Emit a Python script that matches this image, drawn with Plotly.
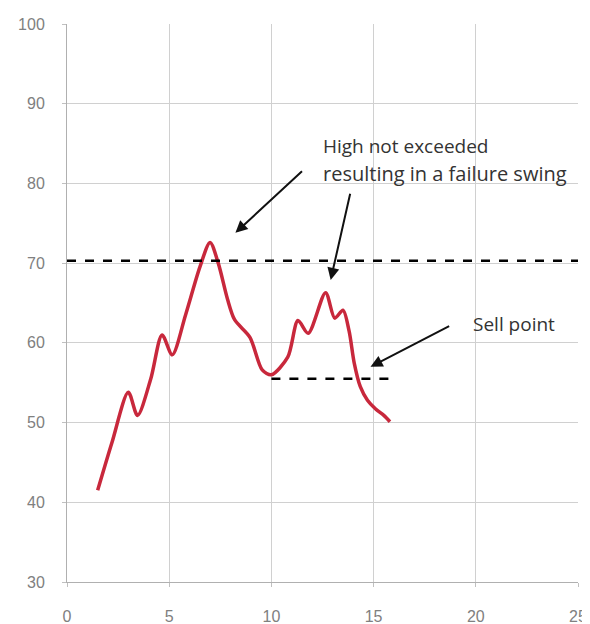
import plotly.graph_objects as go

# RSI-like curve
x_vals = [1.5, 2.2, 3.0, 3.45, 4.1, 4.65, 5.15, 5.8, 6.5, 7.0, 7.4, 7.85, 8.2, 8.95, 9.55, 10.0, 10.8, 11.3, 11.8, 12.65, 13.1, 13.5, 13.8, 14.05, 14.35, 14.7, 15.1, 15.5, 15.8]
y_vals = [41.5, 47.5, 53.8, 50.9, 55.5, 61.0, 58.5, 63.5, 69.5, 72.6, 70.0, 65.5, 62.9, 60.7, 56.6, 56.0, 58.2, 62.8, 61.2, 66.3, 63.1, 64.1, 61.5, 57.5, 54.5, 52.8, 51.7, 50.9, 50.1]

high_level = 70.3
high_x = [0, 25]
sell_level = 55.5
sell_x = [10.0, 15.8]

x_ticks = [0, 5, 10, 15, 20, 25]
y_ticks = [30, 40, 50, 60, 70, 80, 90, 100]

fig = go.Figure()
fig.add_trace(go.Scatter(x=x_vals, y=y_vals, mode="lines",
                         line=dict(color="#C8283C", width=3.5, shape="spline", smoothing=0.8),
                         showlegend=False, hoverinfo="skip"))
fig.add_trace(go.Scatter(x=high_x, y=[high_level, high_level], mode="lines",
                         line=dict(color="black", width=2.5, dash="dash"),
                         showlegend=False, hoverinfo="skip"))
fig.add_trace(go.Scatter(x=sell_x, y=[sell_level, sell_level], mode="lines",
                         line=dict(color="black", width=2.5, dash="dash"),
                         showlegend=False, hoverinfo="skip"))

txt_font = dict(family="Open Sans", size=19, color="#333333")
fig.add_annotation(x=12.45, y=84.7, xref="x", yref="y", xanchor="left", yanchor="middle",
                   text="High not exceeded", showarrow=False, font=txt_font)
fig.add_annotation(x=12.45, y=81.2, xref="x", yref="y", xanchor="left", yanchor="middle",
                   text="resulting in a failure swing", showarrow=False,
                   font=dict(family="Open Sans", size=20, color="#333333"))
fig.add_annotation(x=19.75, y=62.4, xref="x", yref="y", xanchor="left", yanchor="middle",
                   text="Sell point", showarrow=False, font=txt_font)

arrows = [((11.57, 81.7), (8.24, 73.8)),
          ((13.87, 78.9), (12.9, 67.9)),
          ((18.77, 62.2), (14.85, 57.0))]
for (tx, ty), (hx, hy) in arrows:
    fig.add_annotation(x=hx, y=hy, ax=tx, ay=ty, xref="x", yref="y", axref="x", ayref="y",
                       text="", showarrow=True, arrowhead=2, arrowsize=1.2, arrowwidth=2,
                       arrowcolor="#111111")

tick_font = dict(family="Liberation Sans", size=16, color="#808080")
fig.update_xaxes(range=[0, 25], tickvals=x_ticks, showgrid=True, gridcolor="#d0d0d0",
                 gridwidth=1, zeroline=False, showline=True, linecolor="#b0b0b0",
                 ticks="outside", ticklen=4, tickcolor="#c0c0c0", tickfont=tick_font,
                 automargin=False, ticklabelstandoff=16)
fig.update_yaxes(range=[30, 100], tickvals=y_ticks, showgrid=True, gridcolor="#d0d0d0",
                 gridwidth=1, zeroline=False, showline=True, linecolor="#b0b0b0",
                 ticks="outside", ticklen=4, tickcolor="#c0c0c0", tickfont=tick_font,
                 automargin=False, ticklabelstandoff=14)
fig.update_layout(width=582, height=616, margin=dict(l=59, r=12, t=16, b=42),
                  plot_bgcolor="white", paper_bgcolor="white")
fig.write_html("out.html")
